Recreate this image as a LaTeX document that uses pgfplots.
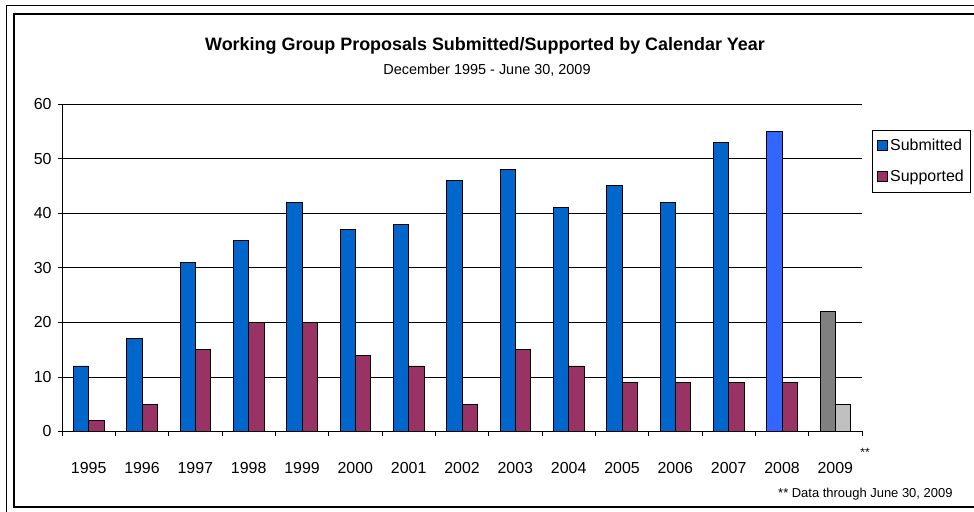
\documentclass[border=0pt]{standalone}
\usepackage{pgfplots}
\pgfplotsset{compat=1.18}
\usepackage{fontspec}
\setmainfont{Liberation Sans}
\definecolor{subblue}{HTML}{0066CC}
\definecolor{suppurple}{HTML}{993366}
\definecolor{lastblue}{HTML}{3366FF}
\definecolor{partgray}{HTML}{808080}
\definecolor{partlight}{HTML}{C0C0C0}
\begin{document}
\begin{tikzpicture}[x=1bp,y=1bp]
\useasboundingbox (0,0) rectangle (974,512);
% frames
\draw[line width=0.8bp] (6,0) -- (6,507) -- (974,507);
\draw[line width=1.3bp] (974,498) -- (14,498) -- (14,5) -- (974,5);
% titles
\node[font=\bfseries\fontsize{18}{21}\selectfont] at (485,466) {Working Group Proposals Submitted/Supported by Calendar Year};
\node[font=\fontsize{14.5}{17}\selectfont] at (487,442) {December 1995 - June 30, 2009};
\node[font=\fontsize{13}{15}\selectfont, anchor=east] at (956,18) {** Data through June 30, 2009};
\node[font=\fontsize{12}{13}\selectfont] at (865,60) {**};
\begin{axis}[
    at={(62bp,80.5bp)}, anchor=south west,
    scale only axis,
    width=800bp, height=327.5bp,
    xmin=-0.5, xmax=14.5,
    ymin=0, ymax=60,
    ytick={0,10,...,60},
    xtick={0,...,14},
    xticklabels={1995,1996,1997,1998,1999,2000,2001,2002,2003,2004,2005,2006,2007,2008,2009},
    minor xtick={-0.5,0.5,...,14.5},
    major x tick style={draw=none},
    tick align=outside,
    major tick length=4bp,
    minor tick length=5bp,
    axis x line*=bottom,
    axis y line*=left,
    axis line style={line width=0.8bp, -},
    every tick/.style={black, line width=0.8bp},
    ymajorgrids,
    major grid style={black, line width=0.8bp},
    tick label style={font=\fontsize{16}{19}\selectfont},
    /pgf/number format/assume math mode=true,
    xticklabel style={yshift=-23bp},
    yticklabel style={xshift=-3bp},
    ybar, bar width=15.3bp,
    legend style={at={(1.0125,0.9206)}, anchor=north west,
        draw=black, line width=0.8bp,
        font=\fontsize{16}{19}\selectfont,
        row sep=14bp, inner xsep=5bp, inner ysep=7bp},
    legend cell align=left,
    legend image code/.code={\draw[#1, line width=0.8bp] (0bp,-4.5bp) rectangle (10bp,5.5bp);},
]
\addplot[fill=subblue, draw=black, line width=0.8bp, bar shift=-7.65bp] coordinates {
    (0,12) (1,17) (2,31) (3,35) (4,42) (5,37) (6,38)
    (7,46) (8,48) (9,41) (10,45) (11,42) (12,53)
};
\addplot[fill=suppurple, draw=black, line width=0.8bp, bar shift=7.65bp] coordinates {
    (0,2) (1,5) (2,15) (3,20) (4,20) (5,14) (6,12)
    (7,5) (8,15) (9,12) (10,9) (11,9) (12,9) (13,9)
};
\addplot[fill=lastblue, draw=black, line width=0.8bp, bar shift=-7.65bp, forget plot] coordinates {(13,55)};
\addplot[fill=partgray, draw=black, line width=0.8bp, bar shift=-7.65bp, forget plot] coordinates {(14,22)};
\addplot[fill=partlight, draw=black, line width=0.8bp, bar shift=7.65bp, forget plot] coordinates {(14,5)};
\legend{Submitted, Supported}
\end{axis}
\end{tikzpicture}
\end{document}
